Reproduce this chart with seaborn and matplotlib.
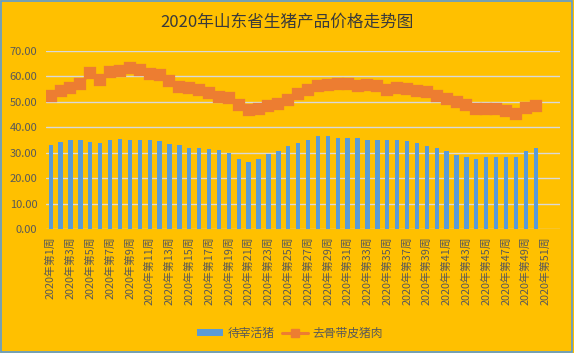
import numpy as np
import pandas as pd
import matplotlib
matplotlib.use("Agg")
import matplotlib.pyplot as plt
import seaborn as sns
from matplotlib.patches import Patch, Rectangle
from matplotlib.lines import Line2D

# 52 weekly categories, data available for weeks 1-50
weeks = [f"2020年第{i}周" for i in range(1, 53)]

live_pig = [33.0, 34.3, 35.1, 35.1, 34.3, 33.9, 35.1, 35.5, 35.1, 35.1,
            35.1, 34.7, 33.6, 33.1, 31.9, 31.9, 31.5, 31.1, 29.9, 27.5,
            26.3, 27.5, 29.5, 30.7, 32.6, 33.8, 35.0, 36.6, 36.6, 35.8,
            35.8, 35.8, 35.0, 35.0, 35.0, 35.0, 34.6, 33.8, 32.6, 31.9,
            30.7, 29.1, 28.3, 27.5, 28.3, 28.3, 28.3, 28.3, 30.7, 31.9]

pork = [52.3, 54.3, 55.6, 57.2, 61.3, 58.5, 61.7, 62.3, 63.4, 62.7,
        61.1, 60.7, 58.3, 56.0, 55.6, 54.7, 53.6, 52.0, 51.6, 48.8,
        46.8, 47.3, 48.5, 49.3, 50.9, 53.2, 54.8, 56.4, 56.8, 57.2,
        57.2, 56.4, 56.8, 56.4, 54.8, 55.6, 55.2, 54.4, 53.9, 52.4,
        51.3, 50.1, 48.6, 47.2, 47.2, 47.2, 46.5, 45.2, 47.7, 48.5]

df = pd.DataFrame({"week": weeks[:len(live_pig)], "live": live_pig, "pork": pork})

bg = "#FFC000"
bar_color = "#5B9BD5"
line_color = "#ED7D31"
text_color = "#595959"
grid_color = "#D9D9D9"

sns.set_theme(style="white")
plt.rcParams['font.family'] = ['Noto Sans CJK SC', 'DejaVu Sans']

fig = plt.figure(figsize=(5.74, 3.53), dpi=100, facecolor=bg)
ax = fig.add_axes([0.0797, 0.351, 0.8967, 0.5045])
ax.set_facecolor(bg)

sns.barplot(data=df, x="week", y="live", order=weeks, color=bar_color,
            saturation=1, width=0.44, edgecolor="none", linewidth=0,
            ax=ax, zorder=3)
sns.pointplot(data=df, x="week", y="pork", order=weeks, color=line_color,
              markers="s", linestyles="-", markersize=7, linewidth=2.2,
              errorbar=None, ax=ax, zorder=4)

ax.set_xlim(-0.5, len(weeks) - 0.5)
ax.set_ylim(0, 70)
ax.set_yticks(np.arange(0, 71, 10))
ax.set_yticklabels([f"{v:.2f}" for v in np.arange(0, 71, 10)])
ax.set_xticks(range(0, len(weeks), 2))
ax.set_xticklabels(weeks[::2], rotation=90)
ax.tick_params(axis="y", length=0, pad=6, labelsize=8, labelcolor=text_color)
ax.tick_params(axis="x", length=0, pad=5, labelsize=7.8, labelcolor=text_color)
ax.yaxis.grid(True, color=grid_color, linewidth=1)
ax.set_axisbelow(True)
for s in ax.spines.values():
    s.set_visible(False)
ax.set_xlabel("")
ax.set_ylabel("")

fig.text(0.5, 1 - 22 / 353, "2020年山东省生猪产品价格走势图", ha="center", va="center",
         fontsize=12, color="#3A3A3A")

handles = [Patch(facecolor=bar_color, edgecolor="none", label="待宰活猪"),
           Line2D([0], [0], color=line_color, linewidth=2.2, marker="s",
                  markersize=6, label="去骨带皮猪肉")]
fig.legend(handles=handles, loc="center", bbox_to_anchor=(0.505, 1 - 333 / 353),
           ncol=2, frameon=False, fontsize=8.5, labelcolor=text_color,
           handlelength=2.2, handleheight=0.5, columnspacing=0.6, handletextpad=0.4)

fig.patches.append(Rectangle((0.001, 0.002), 0.996, 0.996, transform=fig.transFigure,
                             fill=False, edgecolor=bar_color, linewidth=1.2))

fig.savefig("out.png", dpi=100, facecolor=bg)
